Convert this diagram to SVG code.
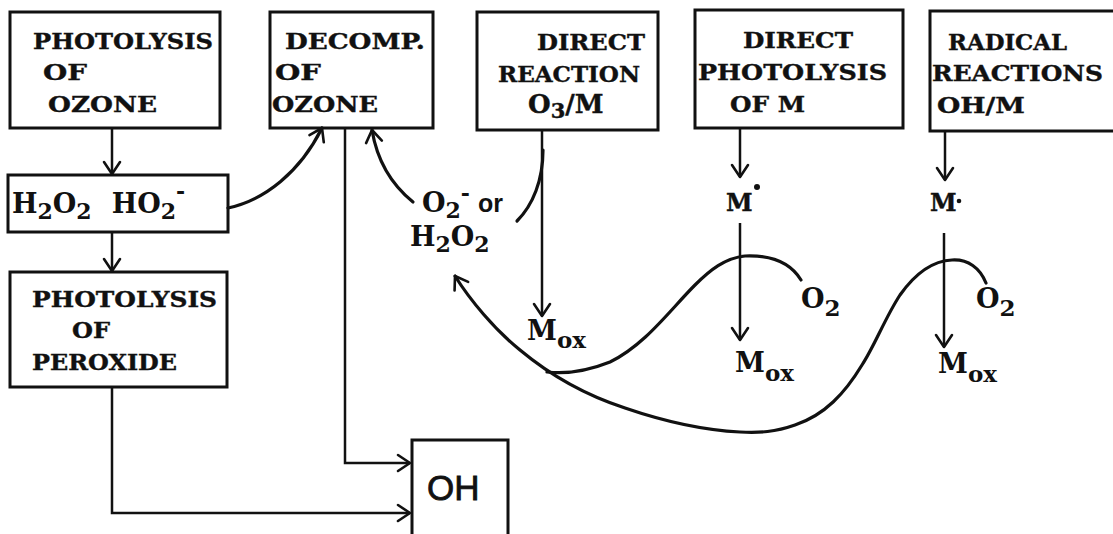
<svg xmlns="http://www.w3.org/2000/svg" width="1113" height="534" viewBox="0 0 1113 534">
<style>
.box{fill:none;stroke:#111;stroke-width:3}
.t{font-family:"DejaVu Serif","Liberation Serif",serif;font-weight:bold;font-size:23px;fill:#111;stroke:#111;stroke-width:0.4}
.c{font-family:"DejaVu Serif","Liberation Serif",serif;font-weight:bold;font-size:27px;fill:#111}
.ln{fill:none;stroke:#111;stroke-width:2.5}
.cv{fill:none;stroke:#111;stroke-width:3.2;stroke-linecap:round}
</style>
<defs>
<marker id="v" viewBox="-16 -12 18 24" markerWidth="18" markerHeight="24" refX="0" refY="0" orient="auto" markerUnits="userSpaceOnUse">
<path d="M-12,-8 L0,0 L-12,8" fill="none" stroke="#111" stroke-width="2.6" stroke-linecap="round" stroke-linejoin="round"/>
</marker>
</defs>
<rect width="1113" height="534" fill="#fff"/>

<g id="photolysis-ozone">
<rect class="box" x="10" y="12" width="210" height="116"/>
<text class="t" x="33" y="49" textLength="180" lengthAdjust="spacingAndGlyphs">PHOTOLYSIS</text>
<text class="t" x="43" y="80" textLength="44" lengthAdjust="spacingAndGlyphs">OF</text>
<text class="t" x="48" y="112" textLength="109" lengthAdjust="spacingAndGlyphs">OZONE</text>
</g>

<g id="decomp-ozone">
<rect class="box" x="270" y="12" width="163" height="116"/>
<text class="t" x="285" y="49" textLength="140" lengthAdjust="spacingAndGlyphs">DECOMP.</text>
<text class="t" x="275" y="80" textLength="46" lengthAdjust="spacingAndGlyphs">OF</text>
<text class="t" x="272" y="112" textLength="106" lengthAdjust="spacingAndGlyphs">OZONE</text>
</g>

<g id="direct-reaction">
<rect class="box" x="477" y="12" width="181" height="118"/>
<text class="t" x="537" y="50" textLength="108" lengthAdjust="spacingAndGlyphs">DIRECT</text>
<text class="t" x="498" y="82" textLength="142" lengthAdjust="spacingAndGlyphs">REACTION</text>
<text class="t" x="528" y="113" style="font-size:26px">O<tspan style="font-size:21px" dy="5">3</tspan><tspan dy="-5">/M</tspan></text>
</g>

<g id="direct-photolysis">
<rect class="box" x="695" y="10" width="208" height="118"/>
<text class="t" x="743" y="48" textLength="110" lengthAdjust="spacingAndGlyphs">DIRECT</text>
<text class="t" x="698" y="80" textLength="189" lengthAdjust="spacingAndGlyphs">PHOTOLYSIS</text>
<text class="t" x="730" y="112" textLength="75" lengthAdjust="spacingAndGlyphs">OF M</text>
</g>

<g id="radical-reactions">
<rect class="box" x="930" y="11" width="200" height="120"/>
<text class="t" x="948" y="50" textLength="119" lengthAdjust="spacingAndGlyphs">RADICAL</text>
<text class="t" x="932" y="81" textLength="171" lengthAdjust="spacingAndGlyphs">REACTIONS</text>
<text class="t" x="937" y="113" textLength="88" lengthAdjust="spacingAndGlyphs">OH/M</text>
</g>

<g id="peroxides">
<rect class="box" x="8" y="175" width="220" height="57"/>
<text class="c" x="12" y="213">H<tspan font-size="22" dy="6">2</tspan><tspan dy="-6">O</tspan><tspan font-size="22" dy="6">2</tspan><tspan dx="20" dy="-6">HO</tspan><tspan font-size="22" dy="6">2</tspan><tspan font-size="22" dy="-20">-</tspan></text>
</g>

<g id="photolysis-peroxide">
<rect class="box" x="10" y="272" width="217" height="115"/>
<text class="t" x="32" y="307" textLength="185" lengthAdjust="spacingAndGlyphs">PHOTOLYSIS</text>
<text class="t" x="72" y="338" textLength="38" lengthAdjust="spacingAndGlyphs">OF</text>
<text class="t" x="32" y="370" textLength="145" lengthAdjust="spacingAndGlyphs">PEROXIDE</text>
</g>

<g id="oh">
<rect class="box" x="412" y="440" width="96" height="110"/>
<text x="427" y="500" font-family="'Liberation Sans',Arial,sans-serif" font-size="35" fill="#111" stroke="#111" stroke-width="0.8">OH</text>
</g>

<g id="labels">
<text class="c" x="422" y="212">O<tspan font-size="22" dy="6">2</tspan><tspan font-size="22" dy="-17">-</tspan><tspan font-family="'Liberation Sans',sans-serif" font-size="25" dx="8" dy="11">or</tspan></text>
<text class="c" x="410" y="246">H<tspan font-size="22" dy="6">2</tspan><tspan dy="-6">O</tspan><tspan font-size="22" dy="6">2</tspan></text>
<text class="c" x="527" y="340">M<tspan font-size="23" dy="8">ox</tspan></text>
<text class="c" x="735" y="372">M<tspan font-size="23" dy="9">ox</tspan></text>
<text class="c" x="938" y="373">M<tspan font-size="23" dy="9">ox</tspan></text>
<text class="c" x="801" y="308">O<tspan font-size="23" dy="8">2</tspan></text>
<text class="c" x="976" y="308">O<tspan font-size="23" dy="8">2</tspan></text>
<text class="t" x="726" y="211" style="font-size:24px">M</text>
<circle cx="757" cy="187" r="3" fill="#111"/>
<text class="t" x="930" y="211" style="font-size:24px">M</text>
<circle cx="959" cy="201" r="2.3" fill="#111"/>
</g>

<g id="connectors">
<line class="ln" x1="112" y1="128" x2="112" y2="174" marker-end="url(#v)"/>
<line class="ln" x1="112" y1="232" x2="112" y2="271" marker-end="url(#v)"/>
<polyline class="ln" points="112,387 112,513 410,513" marker-end="url(#v)"/>
<polyline class="ln" points="345,128 345,463 410,463" marker-end="url(#v)"/>
<path class="cv" d="M228,208 C265,200 300,172 322,128" marker-end="url(#v)"/>
<path class="cv" d="M413,202 C392,185 377,160 372,130" marker-end="url(#v)"/>
<line class="ln" x1="542" y1="130" x2="542" y2="316" marker-end="url(#v)"/>
<path class="cv" d="M543,150 C543,180 533,205 517,221"/>
<line class="ln" x1="740" y1="128" x2="740" y2="177" marker-end="url(#v)"/>
<line class="ln" x1="740" y1="223" x2="740" y2="340" marker-end="url(#v)"/>
<line class="ln" x1="945" y1="131" x2="945" y2="180" marker-end="url(#v)"/>
<line class="ln" x1="944" y1="233" x2="944" y2="347" marker-end="url(#v)"/>
<path class="cv" d="M547,372 C565,374 585,372 610,362 C645,345 670,310 695,285 C710,270 725,258 745,256 C770,255 790,262 801,280"/>
<path class="cv" d="M986,283 C980,268 968,259 952,260 C930,261 912,278 900,295 C885,318 875,345 862,365 C845,393 825,415 795,425 C775,432 760,433 740,432 C700,430 660,420 625,408 C585,395 550,375 520,350 C495,330 470,300 455,276" marker-end="url(#v)"/>
</g>
</svg>
